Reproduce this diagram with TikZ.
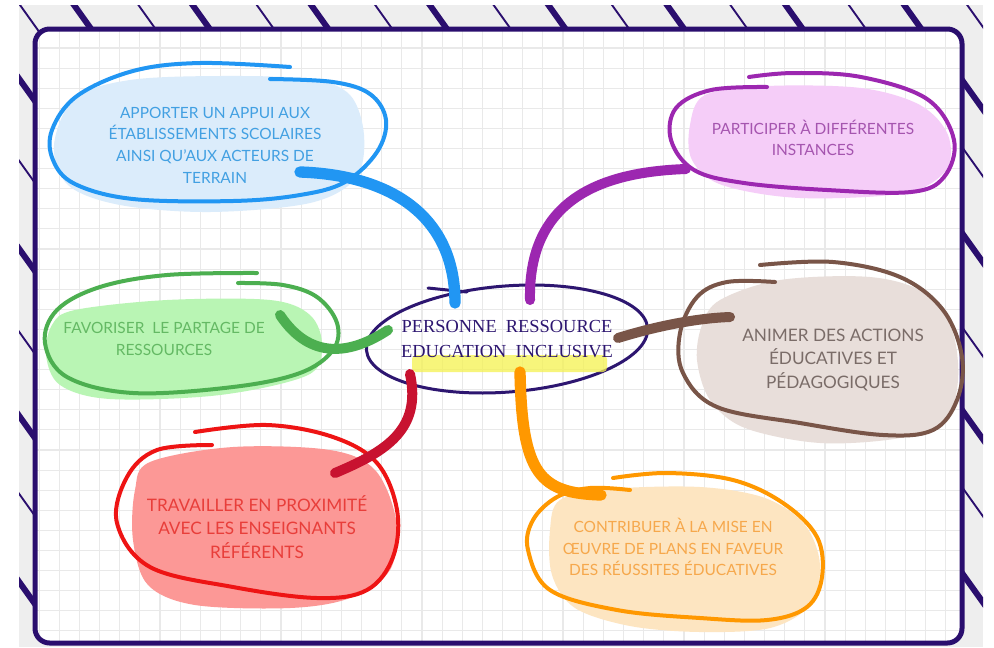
\documentclass[tikz,border=0pt]{standalone}
\usepackage{fontspec}
\setmainfont{Lato}
\newfontfamily\serifc{Liberation Serif}
\definecolor{framec}{RGB}{42,14,110}
\definecolor{bggray}{RGB}{238,238,238}
\definecolor{gridc}{RGB}{233,233,233}
\definecolor{bStroke}{RGB}{33,150,243}
\definecolor{bFill}{RGB}{219,236,251}
\definecolor{bText}{RGB}{66,160,226}
\definecolor{pStroke}{RGB}{156,39,176}
\definecolor{pFill}{RGB}{245,205,248}
\definecolor{pText}{RGB}{165,85,175}
\definecolor{gStroke}{RGB}{76,175,80}
\definecolor{gFill}{RGB}{185,245,180}
\definecolor{gText}{RGB}{100,185,100}
\definecolor{rStroke}{RGB}{238,20,20}
\definecolor{rConn}{RGB}{200,18,48}
\definecolor{rFill}{RGB}{252,152,150}
\definecolor{rText}{RGB}{232,62,58}
\definecolor{brStroke}{RGB}{121,85,72}
\definecolor{brFill}{RGB}{232,222,218}
\definecolor{brText}{RGB}{122,108,104}
\definecolor{oStroke}{RGB}{255,152,0}
\definecolor{oFill}{RGB}{253,229,193}
\definecolor{oText}{RGB}{246,168,76}
\definecolor{centerc}{RGB}{45,22,112}
\definecolor{hilite}{RGB}{245,242,80}
\begin{document}
\begin{tikzpicture}[x=0.75pt,y=-0.75pt,
  bubtext/.style={align=center,font=\fontsize{11.6}{16.3}\selectfont,inner sep=0pt},
  bigtext/.style={align=center,font=\fontsize{12.9}{17.5}\selectfont,inner sep=0pt},
  outline/.style={line width=3pt,line cap=round,line join=round},
  blob/.style={smooth cycle,tension=0.55},
  connthick/.style={line width=8.5pt,line cap=round},
  connthin/.style={line width=7.5pt,line cap=round},
  thickstripe/.style={framec,line width=4.5pt},
  thinstripe/.style={framec,line width=1.4pt},
  gridline/.style={gridc,line width=0.85pt}]
\useasboundingbox (0,0) rectangle (994,647);
\fill[white] (0,0) rectangle (994,647);
\fill[bggray] (19,5) rectangle (983,647);
% stripes
\begin{scope}
\clip (19,5) rectangle (983,647);
\foreach \k in {0,...,7} \draw[thickstripe] ({74+118.6*\k-10},-9) -- ++(40,56);
\foreach \k in {0,...,8} \draw[thinstripe] ({20+118.4*\k-10},-9) -- ++(40,56);
\foreach \yy in {80,250,417,583} \draw[thickstripe] (5,\yy-21) -- ++(40,56);
\foreach \yy in {162,333,495} \draw[thinstripe] (5,\yy-21) -- ++(40,56);
\foreach \yy in {80,233,410,573} \draw[thickstripe] (952,\yy-14) -- ++(40,56);
\foreach \yy in {147,327,487} \draw[thinstripe] (952,\yy-14) -- ++(40,56);
\end{scope}
% frame and grid
\fill[white,rounded corners=11pt] (35,29) rectangle (962,643);
\begin{scope}
\clip[rounded corners=11pt] (35,29) rectangle (962,643);
\foreach \i in {0,...,45} \draw[gridline] ({39.15+20.15*\i},29) -- ++(0,620);
\foreach \j in {-1,...,30} \draw[gridline] (35,{48+20.1*\j}) -- ++(930,0);
\end{scope}
\draw[framec,line width=3.75pt,rounded corners=11pt] (35,29) rectangle (962,643);
% blue bubble
\fill[bFill] plot[blob] coordinates {(75,98) (130,80) (220,76) (310,79) (350,95) (364,135) (356,178) (310,203) (210,212) (120,205) (68,185) (54,145)};
\draw[bStroke,outline] plot[smooth,tension=0.6] coordinates {(290,67) (200,63) (133,71) (77,96) (52,130) (53,160) (75,184) (133,199) (233,201) (300,195) (345,182) (377,152) (386,120) (370,94) (333,82) (270,79)};
\node[bubtext,text=bText] (nBlue) at (215,145) {APPORTER UN APPUI AUX\\ÉTABLISSEMENTS SCOLAIRES\\AINSI QU’AUX ACTEURS DE\\TERRAIN};
% purple bubble
\fill[pFill] plot[blob] coordinates {(705,95) (767,86) (861,88) (920,105) (948,135) (946,170) (905,193) (800,198) (722,185) (692,160) (690,125)};
\draw[pStroke,outline] plot[smooth,tension=0.6] coordinates {(749,77) (794,73) (861,77) (927,99) (954,140) (944,177) (911,192) (827,190) (744,183) (694,170) (671,140) (676,108) (711,90) (767,87)};
\node[bubtext,text=pText] (nPurple) at (813,138) {PARTICIPER À DIFFÉRENTES\\INSTANCES};
% green bubble
\fill[gFill] plot[blob] coordinates {(75,310) (167,300) (270,300) (310,315) (322,345) (308,375) (220,395) (110,399) (60,385) (46,355) (52,325)};
\draw[gStroke,outline] plot[smooth,tension=0.6] coordinates {(257,273) (167,275) (100,287) (57,310) (45,343) (67,377) (133,393) (233,387) (300,373) (333,350) (337,323) (317,297) (283,285) (238,283)};
\node[bubtext,text=gText] (nGreen) at (164,339) {FAVORISER\ \ LE PARTAGE DE\\RESSOURCES};
% red bubble
\fill[rFill] plot[blob] coordinates {(150,462) (233,447) (330,450) (375,470) (396,520) (390,570) (350,598) (290,608) (195,605) (148,585) (133,540) (135,490)};
\draw[rStroke,outline] plot[smooth,tension=0.6] coordinates {(195,432) (267,425) (333,437) (377,463) (397,510) (393,557) (367,590) (317,598) (233,587) (150,567) (117,523) (127,477) (157,450) (212,445)};
\node[bigtext,text=rText] (nRed) at (257,527) {TRAVAILLER EN PROXIMITÉ\\AVEC LES ENSEIGNANTS\\RÉFÉRENTS};
% brown bubble
\fill[brFill] plot[blob] coordinates {(720,300) (780,280) (870,277) (925,293) (952,330) (958,380) (945,420) (900,438) (820,443) (745,428) (710,400) (697,360) (702,325)};
\draw[brStroke,outline] plot[smooth,tension=0.6] coordinates {(760,265) (833,262) (900,277) (943,310) (962,357) (957,400) (933,430) (883,435) (800,423) (717,407) (683,373) (680,333) (697,297) (727,282) (775,282)};
\node[bigtext,text=brText] (nBrown) at (833,360) {ANIMER DES ACTIONS\\ÉDUCATIVES ET\\PÉDAGOGIQUES};
% orange bubble
\fill[oFill] plot[blob] coordinates {(560,500) (610,489) (700,487) (765,498) (805,525) (820,565) (810,605) (770,628) (700,632) (630,626) (575,608) (552,575) (550,530)};
\draw[oStroke,outline] plot[smooth,tension=0.6] coordinates {(613,478) (667,473) (733,480) (783,503) (817,537) (822,577) (807,607) (767,620) (700,618) (617,610) (550,590) (528,550) (533,520) (557,497) (590,488) (630,490)};
\node[bubtext,text=oText] (nOrange) at (673,547) {CONTRIBUER À LA MISE EN\\ŒUVRE DE PLANS EN FAVEUR\\DES RÉUSSITES ÉDUCATIVES};
% centre
\draw[centerc,line width=2.25pt,rotate around={4.5:(507,339)}] (507,339) ellipse [x radius=141, y radius=53];
\draw[centerc,line width=2.25pt,line cap=round] (428,288) -- (467,292);
\fill[hilite,opacity=0.75,rounded corners=3pt] (412,355) rectangle (607,372);
\node[align=center,font=\serifc\fontsize{13.8}{18.75}\selectfont,text=centerc,inner sep=0pt] (nCenter) at (507,339) {PERSONNE\ \ RESSOURCE\\EDUCATION\ \ INCLUSIVE};
% connectors
\coordinate (cBlueA) at (455,303); \coordinate (cBlueB) at (300,172);
\coordinate (cPurA) at (530,300); \coordinate (cPurB) at (686,169);
\coordinate (cGreenA) at (388,330); \coordinate (cGreenB) at (280,315);
\coordinate (cBrownA) at (618,338); \coordinate (cBrownB) at (730,317);
\coordinate (cRedA) at (410,374); \coordinate (cRedB) at (335,473);
\coordinate (cOrA) at (520,372); \coordinate (cOrB) at (601,495);
\draw[bStroke,connthick] (cBlueA) .. controls (455,215) and (390,175) .. (cBlueB);
\draw[pStroke,connthin] (cPurA) .. controls (528,200) and (600,172) .. (cPurB);
\draw[gStroke,connthin] (cGreenA) .. controls (350,355) and (310,360) .. (cGreenB);
\draw[brStroke,connthin] (cBrownA) .. controls (660,325) and (700,318) .. (cBrownB);
\draw[rConn,connthin] (cRedA) .. controls (422,430) and (385,452) .. (cRedB);
\draw[oStroke,connthick] (cOrA) .. controls (522,475) and (540,493) .. (cOrB);
\end{tikzpicture}
\end{document}
